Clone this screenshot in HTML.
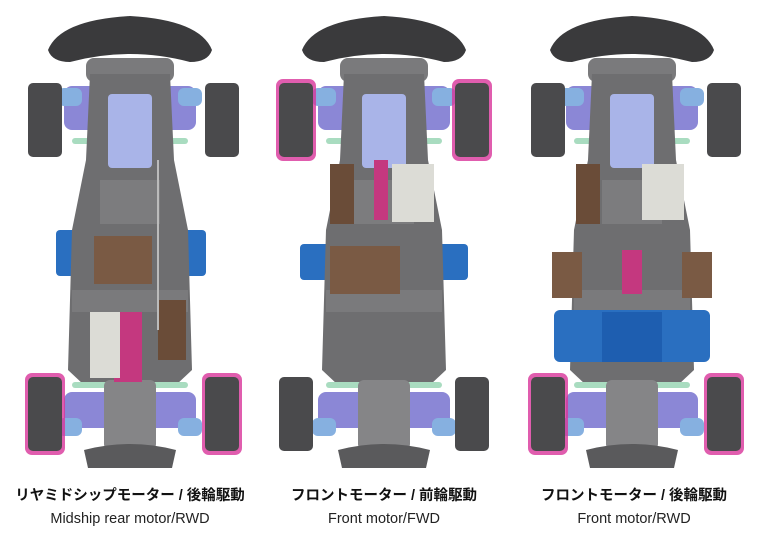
<!DOCTYPE html>
<html><head><meta charset="utf-8"><style>
html,body{margin:0;padding:0;background:#fff}
svg{display:block}
.t1{font-family:"Liberation Sans","Noto Sans CJK JP",sans-serif;font-weight:bold;font-size:14.5px;fill:#111}
.t2{font-family:"Liberation Sans",sans-serif;font-size:14.5px;fill:#222}
</style></head><body>
<svg width="768" height="546" viewBox="0 0 768 546" xmlns="http://www.w3.org/2000/svg">
<defs>
<g id="ch">
 <path d="M-82,50 Q-70,20 0,16 Q70,20 82,50 Q78,62 60,62 Q30,54 0,54 Q-30,54 -60,62 Q-78,62 -82,50Z" fill="#3a3a3c"/>
 <rect x="-44" y="58" width="88" height="24" rx="8" fill="#7a7a7c"/>
 <rect x="-66" y="86" width="132" height="44" rx="8" fill="#8b87d6"/>
 <rect x="-72" y="88" width="24" height="18" rx="6" fill="#86b0e0"/>
 <rect x="48" y="88" width="24" height="18" rx="6" fill="#86b0e0"/>
 <rect x="-58" y="138" width="116" height="6" rx="3" fill="#a9dcc0"/>
 <path d="M-40,74 L40,74 L44,160 L58,230 L62,370 L46,385 L-46,385 L-62,370 L-58,230 L-44,160Z" fill="#6e6e70"/>
 <rect x="-22" y="94" width="44" height="74" rx="4" fill="#a9b4e8"/>
 <rect x="-30" y="180" width="60" height="44" fill="#7c7c7e"/>
 <rect x="-58" y="290" width="116" height="22" fill="#7a7a7c"/>
 <rect x="-66" y="392" width="132" height="36" rx="8" fill="#8b87d6"/>
 <rect x="-72" y="418" width="24" height="18" rx="6" fill="#86b0e0"/>
 <rect x="48" y="418" width="24" height="18" rx="6" fill="#86b0e0"/>
 <rect x="-58" y="382" width="116" height="6" rx="3" fill="#a9dcc0"/>
 <rect x="-26" y="380" width="52" height="70" rx="6" fill="#858587"/>
 <path d="M-46,450 Q0,438 46,450 L42,468 L-42,468Z" fill="#5a5a5c"/>
</g>
<g id="wf"><rect width="34" height="74" rx="5" fill="#4a4a4c"/></g>
</defs>

<g transform="translate(130,0)">
 <rect x="-74" y="230" width="150" height="46" rx="4" fill="#2a6fc0"/>
 <use href="#ch"/>
 <rect x="-36" y="236" width="58" height="48" fill="#7a5a44"/>
 <rect x="-16" y="312" width="28" height="70" fill="#c4387f"/>
 <rect x="-40" y="312" width="30" height="66" fill="#dcdcd6"/>
 <rect x="28" y="300" width="28" height="60" fill="#6a4c38"/>
 <line x1="28" y1="160" x2="28" y2="330" stroke="#bbb" stroke-width="2"/>
</g>
<use href="#wf" x="28" y="83"/><use href="#wf" x="205" y="83"/>
<rect x="25" y="373" width="40" height="82" rx="7" fill="#d8349a" opacity=".8"/>
<rect x="202" y="373" width="40" height="82" rx="7" fill="#d8349a" opacity=".8"/>
<use href="#wf" x="28" y="377"/><use href="#wf" x="205" y="377"/>

<g transform="translate(384,0)">
 <rect x="-84" y="244" width="168" height="36" rx="4" fill="#2a6fc0"/>
 <use href="#ch"/>
 <rect x="-54" y="246" width="70" height="48" fill="#7a5a44"/>
 <rect x="-10" y="160" width="14" height="60" fill="#c4387f"/>
 <rect x="8" y="164" width="42" height="58" fill="#dcdcd6"/>
 <rect x="-54" y="164" width="24" height="60" fill="#6a4c38"/>
</g>
<rect x="276" y="79" width="40" height="82" rx="7" fill="#d8349a" opacity=".8"/>
<rect x="452" y="79" width="40" height="82" rx="7" fill="#d8349a" opacity=".8"/>
<use href="#wf" x="279" y="83"/><use href="#wf" x="455" y="83"/>
<use href="#wf" x="279" y="377"/><use href="#wf" x="455" y="377"/>

<g transform="translate(632,0)">
 <use href="#ch"/>
 <rect x="-78" y="310" width="156" height="52" rx="6" fill="#2a6fc0"/>
 <rect x="-30" y="312" width="60" height="50" fill="#1e5eb0"/>
 <rect x="-80" y="252" width="30" height="46" fill="#7a5a44"/>
 <rect x="50" y="252" width="30" height="46" fill="#7a5a44"/>
 <rect x="-10" y="250" width="20" height="44" fill="#c4387f"/>
 <rect x="10" y="164" width="42" height="56" fill="#dcdcd6"/>
 <rect x="-56" y="164" width="24" height="60" fill="#6a4c38"/>
</g>
<use href="#wf" x="531" y="83"/><use href="#wf" x="707" y="83"/>
<rect x="528" y="373" width="40" height="82" rx="7" fill="#d8349a" opacity=".8"/>
<rect x="704" y="373" width="40" height="82" rx="7" fill="#d8349a" opacity=".8"/>
<use href="#wf" x="531" y="377"/><use href="#wf" x="707" y="377"/>

<text class="t1" x="130" y="500" text-anchor="middle">リヤミドシップモーター / 後輪駆動</text>
<text class="t2" x="130" y="523" text-anchor="middle">Midship rear motor/RWD</text>
<text class="t1" x="384" y="500" text-anchor="middle">フロントモーター / 前輪駆動</text>
<text class="t2" x="384" y="523" text-anchor="middle">Front motor/FWD</text>
<text class="t1" x="634" y="500" text-anchor="middle">フロントモーター / 後輪駆動</text>
<text class="t2" x="634" y="523" text-anchor="middle">Front motor/RWD</text>
</svg>
</body></html>
